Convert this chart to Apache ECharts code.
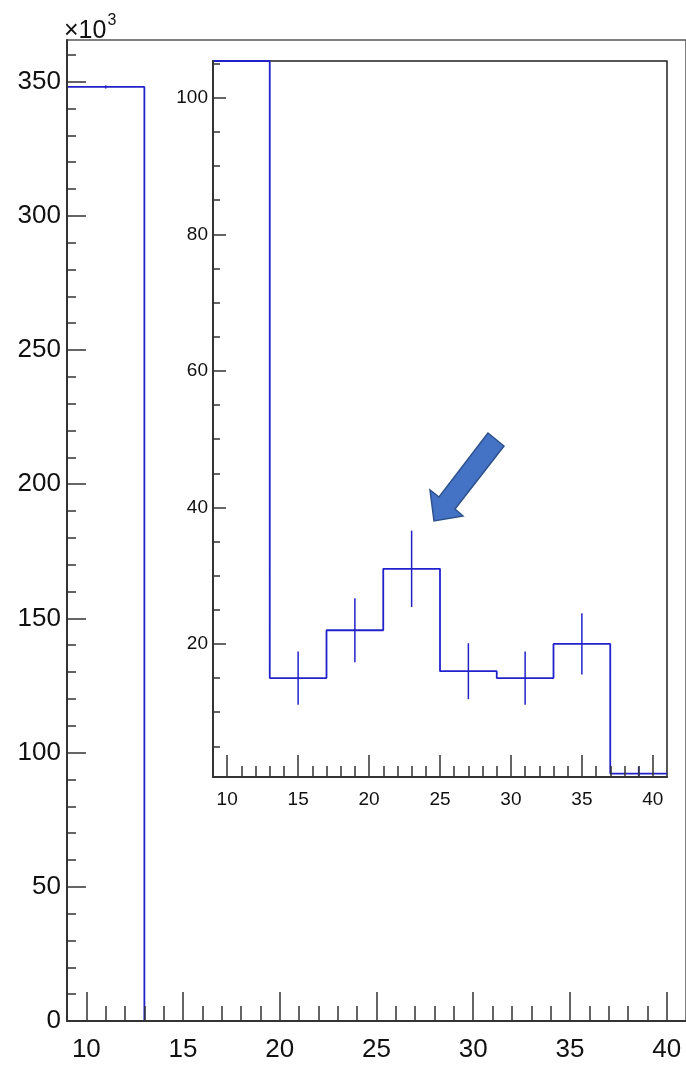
<!DOCTYPE html>
<html>
<head>
<meta charset="utf-8">
<script src="https://cdn.jsdelivr.net/npm/echarts@6/dist/echarts.min.js"></script>
<style>
  html, body { margin: 0; padding: 0; background: #fff; }
  #chart { width: 686px; height: 1066px; }
</style>
</head>
<body>
<div id="chart"></div>
<script>
// Histogram: bin edges (width 4) and entries per bin with their errors
const binEdges = [9, 13, 17, 21, 25, 29, 33, 37, 41];
const counts = [348000, 15, 22, 31, 16, 15, 20, 1];
const countErrors = [590, 3.9, 4.7, 5.6, 4.1, 3.9, 4.5, 1.0];

// Tick labels
const xTickLabels = [10, 15, 20, 25, 30, 35, 40];
const mainYTickLabels = [0, 50, 100, 150, 200, 250, 300, 350];   // in units of 10^3
const insetYTickLabels = [20, 40, 60, 80, 100];

// Axis ranges
const xMin = 9, xMax = 41;
const mainYMax = 365.5;              // 10^3
const insetYMin = 0.5, insetYMax = 105.4;

const FONT = 'Liberation Sans, Arial, Helvetica, sans-serif';
const AXIS_COLOR = '#333';
const HIST_COLOR = '#2222cc';

// minor tick positions between two limits, skipping the major ones
function minorTicks(from, to, step, majors) {
  const out = [];
  for (let v = from; v <= to + 1e-9; v += step) {
    const r = Math.round(v * 100) / 100;
    if (majors.indexOf(r) < 0) out.push(r);
  }
  return out;
}

// outline of a histogram as a step path over the bin edges
function stepPath(edges, vals) {
  const pts = [];
  for (let i = 0; i < vals.length; i++) {
    pts.push([edges[i], vals[i]], [edges[i + 1], vals[i]]);
  }
  return pts;
}

function errorData(edges, vals, errs) {
  return vals.map((v, i) => [(edges[i] + edges[i + 1]) / 2, v, errs[i]]);
}

const mainVals = counts.map(c => c / 1000);
const mainErrs = countErrors.map(e => e / 1000);
// off-scale bins are drawn along the top of the frame
const insetVals = counts.map(c => Math.min(c, insetYMax));

function errorBarRender(params, api) {
  const x = api.value(0), y = api.value(1), e = api.value(2);
  const p1 = api.coord([x, y - e]);
  const p2 = api.coord([x, y + e]);
  const cs = params.coordSys;
  const top = cs.y, bottom = cs.y + cs.height;
  const y1 = Math.min(Math.max(p1[1], top), bottom);
  const y2 = Math.min(Math.max(p2[1], top), bottom);
  if (Math.abs(y1 - y2) < 0.01) return null;
  return {
    type: 'line',
    shape: { x1: p1[0], y1: y1, x2: p2[0], y2: y2 },
    style: { stroke: HIST_COLOR, lineWidth: 1.5 }
  };
}

function valueAxis(base) {
  return Object.assign({
    type: 'value',
    splitLine: { show: false },
    axisLine: { show: true, onZero: false, lineStyle: { color: AXIS_COLOR, width: 2 } },
    z: 5
  }, base);
}

const mainXMinor = minorTicks(11, 39, 1, xTickLabels);
const mainYMinor = minorTicks(10, 360, 10, mainYTickLabels);
const insetYMinor = minorTicks(5, 105, 5, insetYTickLabels);

const tickStyle = { color: AXIS_COLOR, width: 1.5 };

const option = {
  backgroundColor: '#fff',
  animation: false,
  grid: [
    { left: 67, top: 40, width: 619, height: 981, show: true, borderColor: '#555', borderWidth: 1.5, backgroundColor: 'transparent' },
    { left: 213, top: 61, width: 454, height: 716, show: true, borderColor: '#222', borderWidth: 1.5, backgroundColor: '#fff', z: 3 }
  ],
  xAxis: [
    valueAxis({
      gridIndex: 0, position: 'bottom', min: xMin, max: xMax,
      axisTick: { show: true, inside: true, length: 29, customValues: xTickLabels, lineStyle: tickStyle },
      axisLabel: { customValues: xTickLabels, margin: 16, fontSize: 26, fontFamily: FONT, color: '#111' }
    }),
    valueAxis({
      gridIndex: 0, position: 'bottom', min: xMin, max: xMax,
      axisLine: { show: false },
      axisTick: { show: true, inside: true, length: 15, customValues: mainXMinor, lineStyle: tickStyle },
      axisLabel: { show: false }
    }),
    valueAxis({
      gridIndex: 1, position: 'bottom', min: xMin, max: xMax,
      axisTick: { show: true, inside: true, length: 22, customValues: xTickLabels, lineStyle: tickStyle },
      axisLabel: { customValues: xTickLabels, margin: 13, fontSize: 19, fontFamily: FONT, color: '#111' }
    }),
    valueAxis({
      gridIndex: 1, position: 'bottom', min: xMin, max: xMax,
      axisLine: { show: false },
      axisTick: { show: true, inside: true, length: 11, customValues: mainXMinor, lineStyle: tickStyle },
      axisLabel: { show: false }
    })
  ],
  yAxis: [
    valueAxis({
      gridIndex: 0, position: 'left', min: 0, max: mainYMax,
      axisTick: { show: true, inside: true, length: 19, customValues: mainYTickLabels, lineStyle: tickStyle },
      axisLabel: { customValues: mainYTickLabels, margin: 6, fontSize: 26, fontFamily: FONT, color: '#111' }
    }),
    valueAxis({
      gridIndex: 0, position: 'left', min: 0, max: mainYMax,
      axisLine: { show: false },
      axisTick: { show: true, inside: true, length: 9, customValues: mainYMinor, lineStyle: tickStyle },
      axisLabel: { show: false }
    }),
    valueAxis({
      gridIndex: 1, position: 'left', min: insetYMin, max: insetYMax,
      axisTick: { show: true, inside: true, length: 13, customValues: insetYTickLabels, lineStyle: tickStyle },
      axisLabel: { customValues: insetYTickLabels, margin: 5, fontSize: 19, fontFamily: FONT, color: '#111' }
    }),
    valueAxis({
      gridIndex: 1, position: 'left', min: insetYMin, max: insetYMax,
      axisLine: { show: false },
      axisTick: { show: true, inside: true, length: 7, customValues: insetYMinor, lineStyle: tickStyle },
      axisLabel: { show: false }
    })
  ],
  series: [
    {
      type: 'line', xAxisIndex: 0, yAxisIndex: 0,
      data: stepPath(binEdges, mainVals),
      symbol: 'none', clip: true, z: 2,
      lineStyle: { color: HIST_COLOR, width: 1.8 }
    },
    {
      type: 'custom', xAxisIndex: 0, yAxisIndex: 0,
      data: errorData(binEdges, mainVals, mainErrs),
      renderItem: errorBarRender, z: 2
    },
    {
      type: 'line', xAxisIndex: 2, yAxisIndex: 2,
      data: stepPath(binEdges, insetVals),
      symbol: 'none', clip: true, z: 4,
      lineStyle: { color: HIST_COLOR, width: 1.8 }
    },
    {
      type: 'custom', xAxisIndex: 2, yAxisIndex: 2,
      data: errorData(binEdges, counts, countErrors),
      renderItem: errorBarRender, z: 4
    }
  ],
  graphic: [
    {
      type: 'text', left: 64, top: 13, z: 10,
      style: {
        text: '{b|×10}{s|3}',
        rich: {
          b: { fontSize: 25, fontFamily: FONT, fill: '#111', verticalAlign: 'bottom', lineHeight: 31 },
          s: { fontSize: 16, fontFamily: FONT, fill: '#111', verticalAlign: 'top', padding: [0, 0, 14, 1] }
        }
      }
    },
    {
      // annotation arrow pointing at the peak in the 21-25 bin
      type: 'polygon', z: 20,
      shape: { points: [[488, 433], [439, 497], [430, 490], [434, 521], [463, 516], [455, 509], [504, 446]] },
      style: { fill: '#4472C4', stroke: '#2F528F', lineWidth: 1.5 }
    }
  ]
};

const chart = echarts.init(document.getElementById('chart'), null, { renderer: 'canvas' });
chart.setOption(option);
</script>
</body>
</html>
